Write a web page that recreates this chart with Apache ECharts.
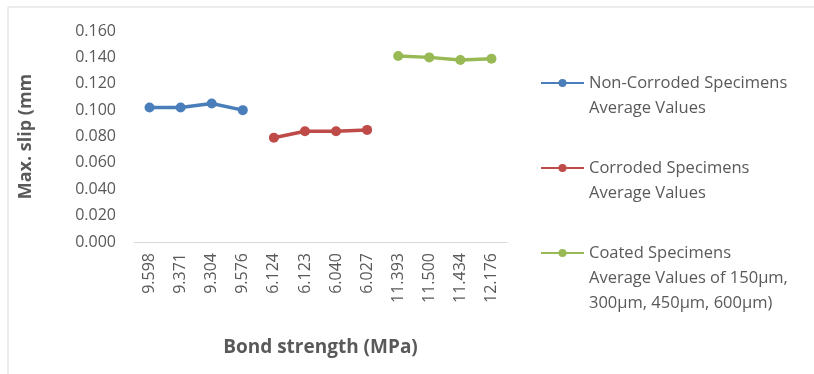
<!DOCTYPE html>
<html><head><meta charset="utf-8">
<script src="https://cdn.jsdelivr.net/npm/echarts@6/dist/echarts.min.js"></script>
<style>html,body{margin:0;padding:0;background:#fff}#c{width:814px;height:374px}</style>
</head><body><div id="c"></div>
<script>
const categories = ['9.598','9.371','9.304','9.576','6.124','6.123','6.040','6.027','11.393','11.500','11.434','12.176'];
const nonCorroded = [0.102, 0.102, 0.105, 0.100, null, null, null, null, null, null, null, null];
const corroded = [null, null, null, null, 0.079, 0.084, 0.084, 0.085, null, null, null, null];
const coated = [null, null, null, null, null, null, null, null, 0.141, 0.140, 0.138, 0.139];
const yTicks = {min: 0, max: 0.16, interval: 0.02};
const names = ['Non-Corroded Specimens Average Values', 'Corroded Specimens Average Values', 'Coated Specimens Average Values of 150µm, 300µm, 450µm, 600µm)'];
const legendText = {
  [names[0]]: ' \nNon-Corroded Specimens\nAverage Values',
  [names[1]]: ' \nCorroded Specimens\nAverage Values',
  [names[2]]: ' \n \nCoated Specimens\nAverage Values of 150µm,\n300µm, 450µm, 600µm)'
};
const colors = ['#4A7EBB', '#BE4B48', '#98B954'];
const font = "'Open Sans', sans-serif";
const LH = 25;
const chart = echarts.init(document.getElementById('c'));
function mkLegend(i, top) {
  return {
    data: [names[i]], left: 540, top: top, orient: 'vertical', padding: 0,
    itemWidth: 43, itemHeight: 10, itemGap: 0,
    formatter: n => legendText[n],
    textStyle: {color: '#595959', fontSize: 16.5, fontFamily: font, lineHeight: LH}
  };
}
function mkSeries(i, data) {
  return {
    name: names[i], type: 'line', data: data, connectNulls: false,
    symbol: 'circle', symbolSize: 10, color: colors[i],
    lineStyle: {width: 3.5, color: colors[i]},
    itemStyle: {color: colors[i]}
  };
}
chart.setOption({
  animation: false,
  backgroundColor: '#fff',
  graphic: [{type: 'rect', shape: {x: 8, y: 7, width: 820, height: 380}, style: {fill: 'none', stroke: '#d9d9d9', lineWidth: 1}}],
  grid: {left: 134, right: 307, top: 31, bottom: 132},
  legend: [mkLegend(0, 83 - 1.5 * LH), mkLegend(1, 168 - 1.5 * LH), mkLegend(2, 253 - 2.5 * LH)],
  xAxis: {
    type: 'category', data: categories, boundaryGap: true,
    axisLine: {lineStyle: {color: '#d9d9d9'}}, axisTick: {show: false},
    axisLabel: {rotate: 90, color: '#595959', fontSize: 16, fontFamily: font, margin: 11, interval: 0},
    name: 'Bond strength (MPa)', nameLocation: 'middle', nameGap: 96,
    nameTextStyle: {color: '#595959', fontSize: 19, fontWeight: 'bold', fontFamily: font}
  },
  yAxis: {
    type: 'value', min: yTicks.min, max: yTicks.max, interval: yTicks.interval,
    axisLine: {show: false}, axisTick: {show: false}, splitLine: {show: false},
    axisLabel: {color: '#595959', fontSize: 16, fontFamily: font, margin: 18, formatter: v => v.toFixed(3)},
    name: 'Max. slip (mm', nameLocation: 'middle', nameGap: 99, nameRotate: 90,
    nameTextStyle: {color: '#595959', fontSize: 18, fontWeight: 'bold', fontFamily: font}
  },
  series: [mkSeries(0, nonCorroded), mkSeries(1, corroded), mkSeries(2, coated)]
});
</script></body></html>
